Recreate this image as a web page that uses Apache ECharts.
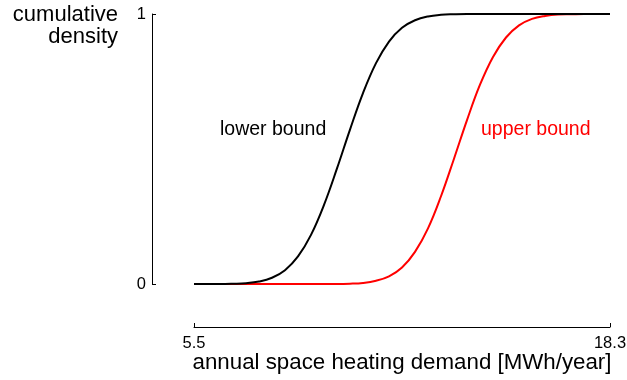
<!DOCTYPE html>
<html>
<head>
<meta charset="utf-8">
<script src="https://cdn.jsdelivr.net/npm/echarts@6/dist/echarts.min.js"></script>
<style>html,body{margin:0;padding:0;background:#fff}#c{width:627px;height:380px}</style>
</head>
<body>
<div id="c"></div>
<script>
const demand = [5.5,5.9,6.3,6.7,7.1,7.5,7.9,8.3,8.7,9.1,9.5,9.9,10.3,10.7,11.1,11.5,11.9,12.3,12.7,13.1,13.5,13.9,14.3,14.7,15.1,15.5,15.9,16.3,16.7,17.1,17.5,17.9,18.3];
const lowerBound = [0,0,0,0.001,0.003,0.009,0.023,0.051,0.102,0.182,0.293,0.428,0.572,0.707,0.818,0.898,0.949,0.977,0.991,0.997,0.999,1,1,1,1,1,1,1,1,1,1,1,1];
const upperBound = [0,0,0,0,0,0,0,0,0,0,0,0,0.001,0.004,0.012,0.028,0.061,0.119,0.206,0.325,0.464,0.607,0.738,0.841,0.913,0.958,0.982,0.993,0.998,0.999,1,1,1];
const xTicks = [5.5, 18.3];
const yTicks = [0, 1];
const labels = ['lower bound', 'upper bound'];

const font = 'Liberation Sans, Arial, sans-serif';
const chart = echarts.init(document.getElementById('c'), null, {renderer: 'canvas'});
chart.setOption({
  animation: false,
  backgroundColor: '#fff',
  grid: {left: 194, right: 17, top: 14, bottom: 96, containLabel: false, outerBoundsMode: 'none'},
  xAxis: {
    type: 'value', min: 5.5, max: 18.3, offset: 43,
    name: 'annual space heating demand [MWh/year]',
    nameLocation: 'middle', nameGap: 25, nameMoveOverlap: false,
    nameTextStyle: {fontFamily: font, fontSize: 22.3, color: '#000', verticalAlign: 'top'},
    axisLine: {show: true, onZero: false, lineStyle: {color: '#000', width: 1}},
    axisTick: {show: true, inside: true, length: 4, customValues: xTicks, lineStyle: {color: '#000'}},
    axisLabel: {customValues: xTicks, fontFamily: font, fontSize: 16.5, color: '#000', margin: 8, formatter: v => v.toFixed(1)},
    splitLine: {show: false}
  },
  yAxis: {
    type: 'value', min: 0, max: 1, offset: 42,
    name: 'cumulative\ndensity',
    nameLocation: 'end', nameGap: 10, nameMoveOverlap: false,
    nameTextStyle: {fontFamily: font, fontSize: 22, lineHeight: 22, color: '#000', align: 'right', verticalAlign: 'top', padding: [0, 34, 0, 0]},
    axisLine: {show: true, onZero: false, lineStyle: {color: '#000', width: 1}},
    axisTick: {show: true, inside: true, length: 4, customValues: yTicks, lineStyle: {color: '#000'}},
    axisLabel: {customValues: yTicks, fontFamily: font, fontSize: 16.5, color: '#000', margin: 6},
    splitLine: {show: false}
  },
  graphic: [
    {type: 'text', left: 220, top: 120, style: {text: labels[0], fontFamily: font, fontSize: 19.5, fill: '#000'}},
    {type: 'text', left: 481, top: 120, style: {text: labels[1], fontFamily: font, fontSize: 19.5, fill: '#ff0000'}}
  ],
  series: [
    {type: 'line', name: labels[1], data: demand.map((x, i) => [x, upperBound[i]]), showSymbol: false, smooth: 0.4, lineStyle: {color: '#ff0000', width: 2}, itemStyle: {color: '#ff0000'}},
    {type: 'line', name: labels[0], data: demand.map((x, i) => [x, lowerBound[i]]), showSymbol: false, smooth: 0.4, lineStyle: {color: '#000', width: 2}, itemStyle: {color: '#000'}}
  ]
});
</script>
</body>
</html>
